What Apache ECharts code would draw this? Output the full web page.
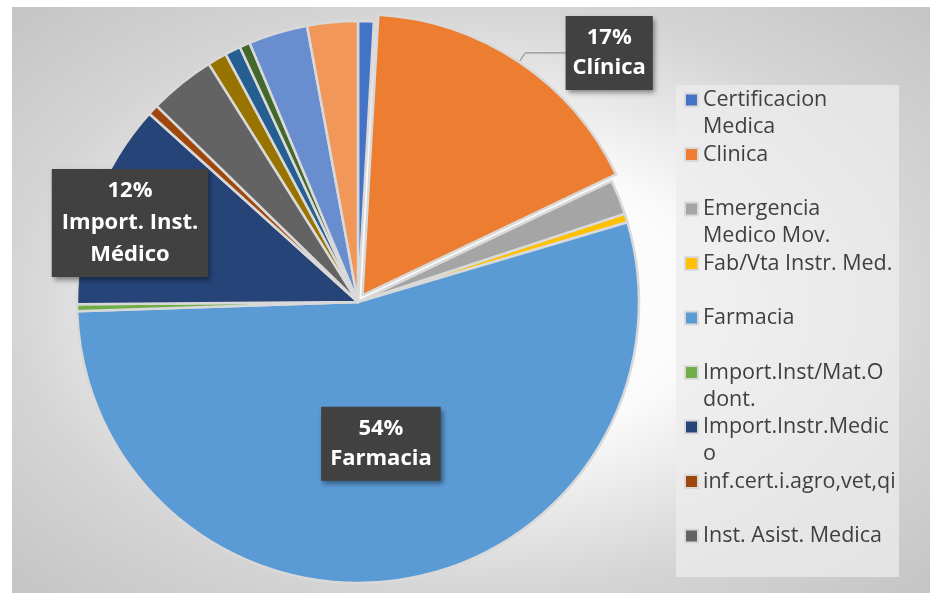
<!DOCTYPE html>
<html>
<head>
<meta charset="utf-8">
<script src="https://cdn.jsdelivr.net/npm/echarts@6/dist/echarts.min.js"></script>
<style>
  html, body { margin: 0; padding: 0; background: #fff; }
  #chart { width: 930px; height: 593px; }
</style>
</head>
<body>
<div id="chart"></div>
<script>
// categorias, en el orden de las porciones (las 9 primeras salen en la leyenda)
const categories = [
  'Certificacion Medica', 'Clinica', 'Emergencia Medico Mov.', 'Fab/Vta Instr. Med.',
  'Farmacia', 'Import.Inst/Mat.Odont.', 'Import.Instr.Medico', 'inf.cert.i.agro,vet,qi',
  'Inst. Asist. Medica', 'Otros 10', 'Otros 11', 'Otros 12', 'Otros 13', 'Otros 14'
]
// participacion de cada categoria (%)
const values = [0.9, 17, 2.0, 0.5, 54, 0.4, 11.8, 0.6, 3.8, 1.1, 0.9, 0.6, 3.4, 2.9]
const colors = [
  '#4472c4', '#ed7d31', '#a5a5a5', '#ffc000', '#5b9bd5', '#70ad47', '#264478',
  '#9e480e', '#636363', '#997300', '#255e91', '#43682b', '#698ed0', '#f1975a'
]
const legendCount = 9

// textos de los rotulos de datos
const labelTexts = {
  'Clinica': 'Clínica',
  'Farmacia': 'Farmacia',
  'Import.Instr.Medico': 'Import. Inst.\nMédico'
}
// leyenda cortada en dos renglones como en el original
const legendLines = {
  'Certificacion Medica': ['Certificacion', 'Medica'],
  'Clinica': ['Clinica', ' '],
  'Emergencia Medico Mov.': ['Emergencia', 'Medico Mov.'],
  'Fab/Vta Instr. Med.': ['Fab/Vta Instr. Med.', ' '],
  'Farmacia': ['Farmacia', ' '],
  'Import.Inst/Mat.Odont.': ['Import.Inst/Mat.O', 'dont.'],
  'Import.Instr.Medico': ['Import.Instr.Medic', 'o'],
  'inf.cert.i.agro,vet,qi': ['inf.cert.i.agro,vet,qi', ' '],
  'Inst. Asist. Medica': ['Inst. Asist. Medica', ' ']
}
// el rotulo de Import. Inst. Medico va fuera de su sitio por defecto
const labelSpots = {
  'Import.Instr.Medico': [130, 223]
}

const chart = echarts.init(document.getElementById('chart'))

const pieData = categories.map((name, i) => {
  const hasLabel = name in labelTexts
  const isImport = name === 'Import.Instr.Medico'
  const isClinica = name === 'Clinica'
  return {
    name: name,
    value: values[i],
    selected: isClinica,
    itemStyle: { color: colors[i] },
    label: {
      show: hasLabel,
      position: isClinica ? 'outside' : 'inside',
      lineHeight: isImport ? 32 : 30,
      padding: isImport ? [6, 10] : (isClinica ? [7, 7] : [7, 9])
    },
    labelLine: {
      show: isClinica,
      length: 11,
      length2: 79
    }
  }
})

chart.setOption({
  backgroundColor: '#fff',
  animation: false,
  graphic: [
    {
      type: 'rect',
      x: 12, y: 7,
      scaleX: 918 / 586,
      shape: { x: 0, y: 0, width: 586, height: 586 },
      style: {
        fill: new echarts.graphic.RadialGradient(0.5, 0.5, 0.71, [
          { offset: 0, color: '#ffffff' },
          { offset: 0.35, color: '#fbfbfb' },
          { offset: 0.7, color: '#d5d5d5' },
          { offset: 1, color: '#c4c4c4' }
        ])
      },
      silent: true
    },
    {
      type: 'rect',
      shape: { x: 676, y: 85, width: 223, height: 492 },
      style: { fill: 'rgba(236,236,236,0.75)' },
      silent: true
    }
  ],
  legend: {
    data: categories.slice(0, legendCount),
    orient: 'vertical',
    left: 684,
    top: 59.5,
    padding: 0,
    icon: 'rect',
    itemWidth: 13,
    itemHeight: 13,
    itemGap: -26.5,
    selectedMode: false,
    // renglon vacio arriba para que el primero quede a la altura del icono
    formatter: name => ' \n' + legendLines[name].join('\n'),
    textStyle: {
      fontFamily: 'Open Sans',
      fontSize: 21.5,
      color: '#404040',
      lineHeight: 27
    }
  },
  series: [{
    type: 'pie',
    center: [358, 302],
    radius: 281,
    startAngle: 90,
    clockwise: true,
    selectedMode: 'single',
    selectedOffset: 8,
    avoidLabelOverlap: false,
    silent: true,
    itemStyle: { borderColor: '#d9d9d9', borderWidth: 2.5 },
    label: {
      formatter: p => Math.round(p.percent) + '%\n' + labelTexts[p.name],
      color: '#fff',
      fontFamily: 'Open Sans',
      fontWeight: 'bold',
      fontSize: 22,
      align: 'center',
      backgroundColor: '#414141',
      shadowColor: 'rgba(0,0,0,0.45)',
      shadowBlur: 5,
      shadowOffsetX: 2,
      shadowOffsetY: 3
    },
    labelLine: {
      lineStyle: { color: '#7f7f7f', width: 1 }
    },
    labelLayout: p => {
      const spot = labelSpots[categories[p.dataIndex]]
      return spot
        ? { x: spot[0], y: spot[1], align: 'center', verticalAlign: 'middle' }
        : { align: 'center', verticalAlign: 'middle' }
    },
    data: pieData
  }]
})
</script>
</body>
</html>
